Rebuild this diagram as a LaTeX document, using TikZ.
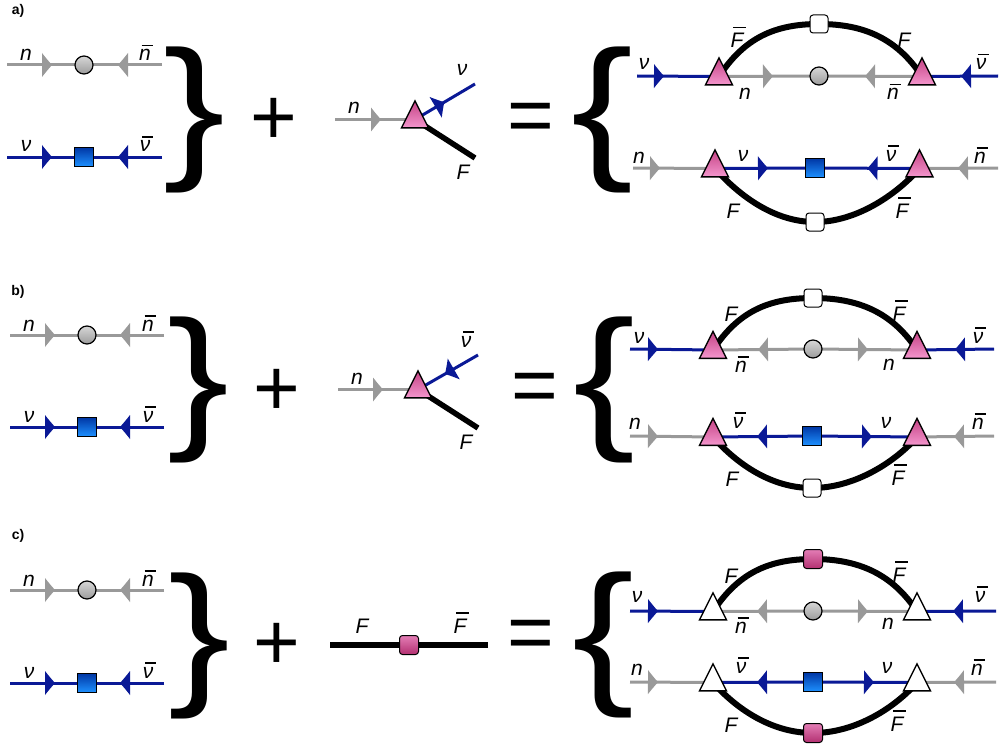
\documentclass[tikz,border=0pt]{standalone}
\usepackage{fontspec}
\setmainfont{Liberation Sans}
\usepackage{graphicx}
\usetikzlibrary{shapes.geometric,decorations.markings}
\definecolor{gcol}{RGB}{153,153,153}
\definecolor{bcol}{RGB}{10,25,150}
\definecolor{pkT}{RGB}{196,66,132}
\definecolor{pkB}{RGB}{244,150,205}
\definecolor{ciT}{RGB}{215,215,215}
\definecolor{ciB}{RGB}{155,155,155}
\definecolor{bsT}{RGB}{0,55,165}
\definecolor{bsB}{RGB}{30,145,255}
\definecolor{psT}{RGB}{228,125,182}
\definecolor{psB}{RGB}{178,48,112}
\pgfdeclarelayer{back}
\pgfdeclarelayer{bg}
\pgfsetlayers{back,bg,main}
% overlined letter: optional arg = height of the bar above the baseline
\newcommand{\ob}[2][14.5pt]{\setbox0=\hbox{#2}\hbox{\rlap{\hskip2.5pt\vrule width\wd0 height\dimexpr#1+1.4pt\relax depth-#1}\box0}}
\newcommand{\arrhead}[1]{\fill[#1] (0,0) .. controls (-3.4,3.8) and (-6.8,7.8) .. (-10,12) -- (-10,-12) .. controls (-6.8,-7.8) and (-3.4,-3.8) .. (0,0) -- cycle;}
\newcommand{\bracer}{\makebox[40pt]{\resizebox*{62pt}{146pt}{\}}}}
\newcommand{\bracel}{\makebox[40pt]{\resizebox*{62pt}{146pt}{\{}}}
\tikzset{
  gl/.style={draw=gcol, line width=3pt},
  bl/.style={draw=bcol, line width=3pt},
  fl/.style={draw=black, line width=6pt},
  fw/.style 2 args={postaction={decorate, decoration={markings, mark=at position #1pt with {\arrhead{#2}}}}},
  tri/.style={isosceles triangle, shape border rotate=90, isosceles triangle stretches, minimum width=27pt, minimum height=27pt, inner sep=0pt, outer sep=0pt, draw=black, line width=1.4pt},
  ptri/.style={tri, top color=pkT, bottom color=pkB},
  wtri/.style={tri, fill=white},
  circ/.style={circle, minimum size=18pt, inner sep=0pt, outer sep=0pt, draw=black, line width=1.2pt, top color=ciT, bottom color=ciB},
  bsq/.style={rectangle, minimum size=19pt, inner sep=0pt, draw=black, line width=1.2pt, top color=bsT, bottom color=bsB},
  wsq/.style={rectangle, rounded corners=3pt, minimum size=18pt, inner sep=0pt, draw=black, line width=1pt, fill=white},
  psq/.style={rectangle, rounded corners=3pt, minimum size=19pt, inner sep=0pt, draw=black, line width=1pt, top color=psT, bottom color=psB},
  lab/.style={font=\fontsize{21}{24}\selectfont\itshape, inner sep=0pt, anchor=base},
  plab/.style={font=\fontsize{14}{16}\selectfont\bfseries, inner sep=0pt},
  brc/.style={inner sep=0pt},
  opn/.style={inner sep=0pt, font=\fontsize{80}{80}\selectfont},
}
\newcommand{\lhs}[6]{%
  \coordinate (#1gL) at (#2,#5);
  \node[circ] (#1gC) at (#3,#5) {};
  \coordinate (#1gR) at (#4,#5);
  \coordinate (#1bL) at (#2,#6);
  \node[bsq] (#1bC) at (#3,#6) {};
  \coordinate (#1bR) at (#4,#6);
  \node[lab] (#1ln) at (#3-58,#5-4) {n};
  \node[lab] (#1lnb) at (#3+61,#5-4) {\ob{n}};
  \node[lab] (#1lv) at (#3-58,#6-5) {ν};
  \node[lab] (#1lvb) at (#3+61,#6-5) {\ob{ν}};
  \begin{pgfonlayer}{bg}
    \draw[gl, fw={45}{gcol}] (#1gL) -- (#1gC.center);
    \draw[gl, fw={44}{gcol}] (#1gR) -- (#1gC.center);
    \draw[bl, fw={45}{bcol}] (#1bL) -- (#1bC.center);
    \draw[bl, fw={44}{bcol}] (#1bR) -- (#1bC.center);
  \end{pgfonlayer}
}
\begin{document}
\begin{tikzpicture}[x=1pt,y=-1pt]
\useasboundingbox (0,0) rectangle (1001,749);
\begin{pgfonlayer}{back}
  \fill[white] (0,0) rectangle (1001,749);
\end{pgfonlayer}

% panel labels
\node[plab] (la) at (18,11) {a)};
\node[plab] (lb) at (18,292) {b)};
\node[plab] (lc) at (18,536) {c)};

% left-hand sides
\lhs{A}{7}{84}{162}{65}{157}
\lhs{B}{10}{87}{164}{335}{427}
\lhs{C}{10}{87}{164}{590}{683}

% braces and operators
\node[brc] (Abr) at (195,120) {\bracer};
\node[brc] (Bbr) at (198.5,390) {\bracer};
\node[brc] (Cbr) at (199,645.5) {\bracer};
\node[brc] (Abl) at (602,120) {\bracel};
\node[brc] (Bbl) at (604.5,390) {\bracel};
\node[brc] (Cbl) at (603.5,645) {\bracel};
\node[opn] (Apl) at (274,121) {+};
\node[opn] (Bpl) at (277,392) {+};
\node[opn] (Cpl) at (277,646) {+};
\node[opn] (Aeq) at (531,122.5) {=};
\node[opn] (Beq) at (534.5,393) {=};
\node[opn] (Ceq) at (530.5,640) {=};

% middle a
\node[ptri] (AvT) at (415,119.5) {};
\coordinate (AvG) at (335,119.5);
\coordinate (AvN) at (475,84);
\coordinate (AvF) at (475,158);
\node[lab] (Avln) at (354,114) {n};
\node[lab] (Avlv) at (462,76) {ν};
\node[lab] (AvlF) at (463,179) {F};
% middle b
\node[ptri] (BvT) at (418,389.5) {};
\coordinate (BvG) at (338,389.5);
\coordinate (BvN) at (478,355);
\coordinate (BvF) at (478,428);
\node[lab] (Bvln) at (357,384) {n};
\node[lab] (Bvlv) at (466,347) {\ob{ν}};
\node[lab] (BvlF) at (466,449) {F};
% middle c
\node[psq] (CmP) at (409,645) {};
\coordinate (CmL) at (330,645);
\coordinate (CmR) at (488,645);
\node[lab] (CmlF) at (362,633) {F};
\node[lab] (CmlFb) at (460,633) {\ob[19.5pt]{F}};

% right a top
\coordinate (AtL) at (637,76);
\node[ptri] (AtT1) at (719,76.5) {};
\node[circ] (AtC) at (819,76) {};
\node[ptri] (AtT2) at (922,76.5) {};
\coordinate (AtR) at (998,76);
\node[wsq] (AtW) at (819,24) {};
\node[lab] at (644,70) (Atl1) {ν};
\node[lab] at (745,100) (Atl2) {n};
\node[lab] at (893,100) (Atl3) {\ob{n}};
\node[lab] at (981,70) (Atl4) {\ob{ν}};
\node[lab] at (737,48) (Atl5) {\ob[19.5pt]{F}};
\node[lab] at (904,48) (Atl6) {F};
% right a bottom
\coordinate (AbL) at (633,168);
\node[ptri] (AbT1) at (715,168.5) {};
\node[bsq] (AbS) at (815,168) {};
\node[ptri] (AbT2) at (919.5,168.5) {};
\coordinate (AbR) at (998,168);
\node[wsq] (AbW) at (815,222) {};
\node[lab] at (639,163) (Abl1) {n};
\node[lab] at (743,161) (Abl2) {ν};
\node[lab] at (891,161) (Abl3) {\ob{ν}};
\node[lab] at (980,163) (Abl4) {\ob{n}};
\node[lab] at (733,218) (Abl5) {F};
\node[lab] at (902,218) (Abl6) {\ob[19.5pt]{F}};

% right b top
\coordinate (BtL) at (630,349);
\node[ptri] (BtT1) at (713,350) {};
\node[circ] (BtC) at (813,349) {};
\node[ptri] (BtT2) at (917,350) {};
\coordinate (BtR) at (994,349);
\node[wsq] (BtW) at (813,298) {};
\node[lab] at (731,321) (Btl1) {F};
\node[lab] at (899,321) (Btl2) {\ob[19.5pt]{F}};
\node[lab] at (639,343) (Btl3) {ν};
\node[lab] at (741,372) (Btl4) {\ob{n}};
\node[lab] at (889,370) (Btl5) {n};
\node[lab] at (978,343) (Btl6) {\ob{ν}};
% right b bottom
\coordinate (BbL) at (630,436);
\node[ptri] (BbT1) at (713,437) {};
\node[bsq] (BbS) at (812,436) {};
\node[ptri] (BbT2) at (917,437) {};
\coordinate (BbR) at (994,436);
\node[wsq] (BbW) at (812,488) {};
\node[lab] at (635,429) (Bbl1) {n};
\node[lab] at (738,428) (Bbl2) {\ob{ν}};
\node[lab] at (886,428) (Bbl3) {ν};
\node[lab] at (978,429) (Bbl4) {\ob{n}};
\node[lab] at (732,486) (Bbl5) {F};
\node[lab] at (898,485) (Bbl6) {\ob[19.5pt]{F}};

% right c top
\coordinate (CtL) at (630,611);
\node[wtri] (CtT1) at (713,611.5) {};
\node[circ] (CtC) at (813,611) {};
\node[wtri] (CtT2) at (917,611.5) {};
\coordinate (CtR) at (996,611);
\node[psq] (CtP) at (813,559) {};
\node[lab] at (731,583) (Ctl1) {F};
\node[lab] at (899,582) (Ctl2) {\ob[19.5pt]{F}};
\node[lab] at (637,602) (Ctl3) {ν};
\node[lab] at (741,633) (Ctl4) {\ob{n}};
\node[lab] at (888,629) (Ctl5) {n};
\node[lab] at (980,602) (Ctl6) {\ob{ν}};
% right c bottom
\coordinate (CbL) at (630,682);
\node[wtri] (CbT1) at (713,682.5) {};
\node[bsq] (CbS) at (813,682) {};
\node[wtri] (CbT2) at (917,682.5) {};
\coordinate (CbR) at (996,682);
\node[psq] (CbP) at (813,733) {};
\node[lab] at (637,675) (Cbl1) {n};
\node[lab] at (741,673) (Cbl2) {\ob{ν}};
\node[lab] at (887,673) (Cbl3) {ν};
\node[lab] at (977,675) (Cbl4) {\ob{n}};
\node[lab] at (731,732) (Cbl5) {F};
\node[lab] at (897,731) (Cbl6) {\ob[19.5pt]{F}};

\begin{pgfonlayer}{bg}
  % middle
  \draw[gl, fw={46}{gcol}] (AvG) -- (AvT.center);
  \draw[bl, fw={34}{bcol}] (AvT.center) -- (AvN);
  \draw[fl, line width=5.5pt] (AvT.center) -- (AvF);
  \draw[gl, fw={45}{gcol}] (BvG) -- (BvT.center);
  \draw[bl, fw={38}{bcol}] (BvN) -- (BvT.center);
  \draw[fl, line width=5.5pt] (BvT.center) -- (BvF);
  \draw[fl] (CmL) -- (CmP.center);
  \draw[fl] (CmR) -- (CmP.center);
  % a right
  \draw[bl, fw={27}{bcol}] (AtL) -- (AtT1.center);
  \draw[gl, fw={54}{gcol}] (AtT1.center) -- (AtC.center);
  \draw[gl, fw={57}{gcol}] (AtT2.center) -- (AtC.center);
  \draw[bl, fw={37}{bcol}] (AtR) -- (AtT2.center);
  \draw[fl] (AtT1.center) .. controls +(25,-38) and +(-45,0) .. (AtW.center) .. controls +(45,0) and +(-25,-38) .. (AtT2.center);
  \draw[gl, fw={27}{gcol}] (AbL) -- (AbT1.center);
  \draw[bl, fw={53}{bcol}] (AbT1.center) -- (AbS.center);
  \draw[bl, fw={52}{bcol}] (AbT2.center) -- (AbS.center);
  \draw[gl, fw={40}{gcol}] (AbR) -- (AbT2.center);
  \draw[fl] (AbT1.center) .. controls +(25,28) and +(-40,0) .. (AbW.center) .. controls +(40,0) and +(-25,28) .. (AbT2.center);
  % b right
  \draw[bl, fw={28}{bcol}] (BtL) -- (BtT1.center);
  \draw[gl, fw={55}{gcol}] (BtC.center) -- (BtT1.center);
  \draw[gl, fw={55}{gcol}] (BtC.center) -- (BtT2.center);
  \draw[bl, fw={39}{bcol}] (BtR) -- (BtT2.center);
  \draw[fl] (BtT1.center) .. controls +(25,-38) and +(-45,0) .. (BtW.center) .. controls +(45,0) and +(-25,-38) .. (BtT2.center);
  \draw[gl, fw={28}{gcol}] (BbL) -- (BbT1.center);
  \draw[bl, fw={55}{bcol}] (BbS.center) -- (BbT1.center);
  \draw[bl, fw={60}{bcol}] (BbS.center) -- (BbT2.center);
  \draw[gl, fw={40}{gcol}] (BbR) -- (BbT2.center);
  \draw[fl] (BbT1.center) .. controls +(25,28) and +(-40,0) .. (BbW.center) .. controls +(40,0) and +(-25,28) .. (BbT2.center);
  % c right
  \draw[bl, fw={28}{bcol}] (CtL) -- (CtT1.center);
  \draw[gl, fw={56}{gcol}] (CtC.center) -- (CtT1.center);
  \draw[gl, fw={55}{gcol}] (CtC.center) -- (CtT2.center);
  \draw[bl, fw={43}{bcol}] (CtR) -- (CtT2.center);
  \draw[fl] (CtT1.center) .. controls +(25,-38) and +(-45,0) .. (CtP.center) .. controls +(45,0) and +(-25,-38) .. (CtT2.center);
  \draw[gl, fw={28}{gcol}] (CbL) -- (CbT1.center);
  \draw[bl, fw={56}{bcol}] (CbS.center) -- (CbT1.center);
  \draw[bl, fw={61}{bcol}] (CbS.center) -- (CbT2.center);
  \draw[gl, fw={42}{gcol}] (CbR) -- (CbT2.center);
  \draw[fl] (CbT1.center) .. controls +(25,28) and +(-40,0) .. (CbP.center) .. controls +(40,0) and +(-25,28) .. (CbT2.center);
\end{pgfonlayer}
\end{tikzpicture}
\end{document}
